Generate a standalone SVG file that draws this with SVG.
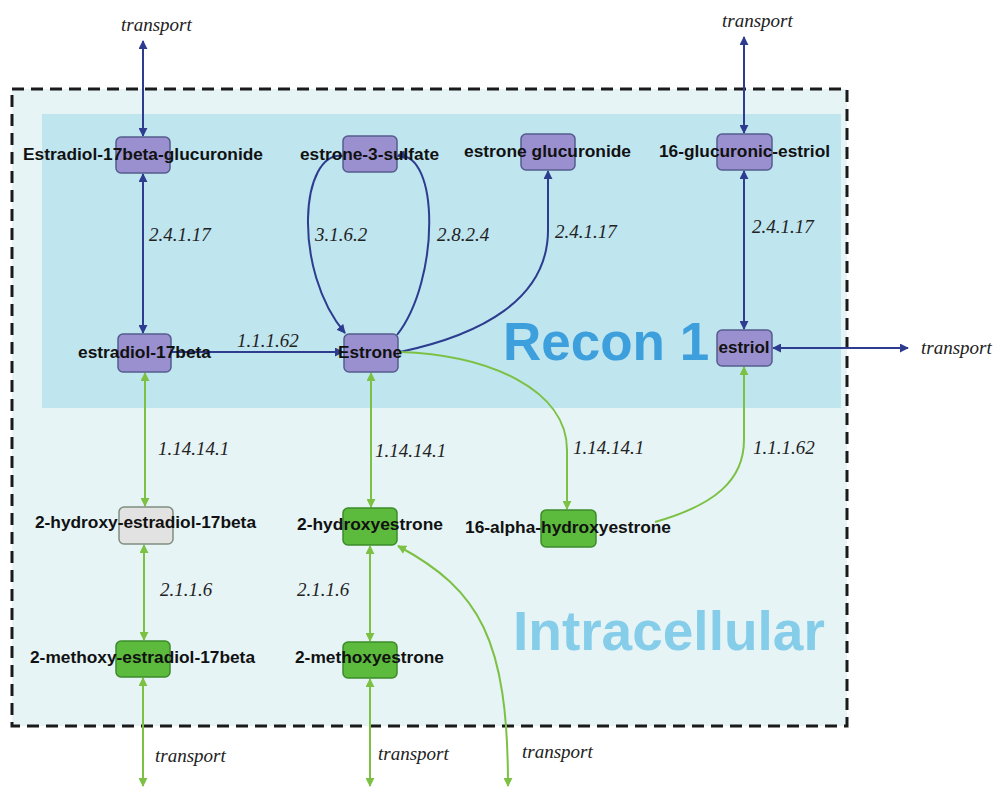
<svg xmlns="http://www.w3.org/2000/svg" width="995" height="787" viewBox="0 0 995 787">
<style>
.lbl{font-family:"Liberation Sans",Arial,sans-serif;font-weight:bold;font-size:16px;fill:#111;text-anchor:middle}
.ec{font-family:"Liberation Serif","Times New Roman",serif;font-style:italic;font-size:19px;fill:#222}
.pur{fill:#9a90d0;stroke:#555c8c;stroke-width:1.5}
.grn{fill:#5cba3c;stroke:#3d8a2a;stroke-width:1.5}
.gry{fill:#e2e2e2;stroke:#7f8f7f;stroke-width:1.5}
.b{fill:none;stroke:#2d3c8e;stroke-width:2}
.g{fill:none;stroke:#7cc144;stroke-width:2}
</style>
<defs>
<marker id="ab" viewBox="0 0 10 10" refX="9" refY="5" markerWidth="9" markerHeight="9" markerUnits="userSpaceOnUse" orient="auto-start-reverse"><path d="M0 0 L10 5 L0 10 Z" fill="#2d3c8e"/></marker>
<marker id="ag" viewBox="0 0 10 10" refX="9" refY="5" markerWidth="9" markerHeight="9" markerUnits="userSpaceOnUse" orient="auto-start-reverse"><path d="M0 0 L10 5 L0 10 Z" fill="#7cc144"/></marker>
</defs>
<rect width="995" height="787" fill="#ffffff"/>
<g id="compartments">
<rect x="12" y="89" width="835" height="637" fill="#e6f4f6" stroke="#1a1a1a" stroke-width="3" stroke-dasharray="12 7"/>
<rect x="42" y="114" width="799" height="294" fill="#bfe5ef"/>
<text x="503" y="360" font-family="Liberation Sans,Arial,sans-serif" font-weight="bold" font-size="53" fill="#3d9fdb">Recon 1</text>
<text x="513" y="650" font-family="Liberation Sans,Arial,sans-serif" font-weight="bold" font-size="55" fill="#86cdea">Intracellular</text>
</g>
<g id="connectors">
<path class="b" d="M143 41 V136" marker-start="url(#ab)" marker-end="url(#ab)"/>
<path class="b" d="M143 174 V333" marker-start="url(#ab)" marker-end="url(#ab)"/>
<path class="b" d="M172 352 H343" marker-end="url(#ab)"/>
<path class="b" d="M343 156 C300 150,292 270,345 333" marker-end="url(#ab)"/>
<path class="b" d="M397 335 C440 280,440 150,397 156" marker-end="url(#ab)"/>
<path class="b" d="M400 352 C480 335,548 300,548 230 L548 171" marker-end="url(#ab)"/>
<path class="b" d="M744 37 V133" marker-start="url(#ab)" marker-end="url(#ab)"/>
<path class="b" d="M744 171 V329" marker-start="url(#ab)" marker-end="url(#ab)"/>
<path class="b" d="M773 348 H908" marker-start="url(#ab)" marker-end="url(#ab)"/>
<path class="g" d="M145 373 V506" marker-start="url(#ag)" marker-end="url(#ag)"/>
<path class="g" d="M144 545 V640" marker-start="url(#ag)" marker-end="url(#ag)"/>
<path class="g" d="M143 678 V786" marker-start="url(#ag)" marker-end="url(#ag)"/>
<path class="g" d="M371 373 V507" marker-start="url(#ag)" marker-end="url(#ag)"/>
<path class="g" d="M370 546 V641" marker-start="url(#ag)" marker-end="url(#ag)"/>
<path class="g" d="M370 679 V786" marker-start="url(#ag)" marker-end="url(#ag)"/>
<path class="g" d="M400 352 C490 355,567 390,567 450 L567 509" marker-end="url(#ag)"/>
<path class="g" d="M655 522 C715 505,744 480,744 440 L744 367" marker-end="url(#ag)"/>
<path class="g" d="M398 546 C480 590,508 640,508 786" marker-start="url(#ag)" marker-end="url(#ag)"/>
</g>
<g id="edge-labels">
<text class="ec" x="121" y="31">transport</text>
<text class="ec" x="722" y="27">transport</text>
<text class="ec" x="921" y="354">transport</text>
<text class="ec" x="155" y="762">transport</text>
<text class="ec" x="378" y="760">transport</text>
<text class="ec" x="522" y="758">transport</text>
<text class="ec" x="149" y="241">2.4.1.17</text>
<text class="ec" x="315" y="241">3.1.6.2</text>
<text class="ec" x="437" y="241">2.8.2.4</text>
<text class="ec" x="555" y="238">2.4.1.17</text>
<text class="ec" x="752" y="233">2.4.1.17</text>
<text class="ec" x="237" y="347">1.1.1.62</text>
<text class="ec" x="158" y="455">1.14.14.1</text>
<text class="ec" x="375" y="457">1.14.14.1</text>
<text class="ec" x="573" y="454">1.14.14.1</text>
<text class="ec" x="753" y="454">1.1.1.62</text>
<text class="ec" x="160" y="596">2.1.1.6</text>
<text class="ec" x="297" y="596">2.1.1.6</text>
</g>
<g id="n-e2g"><rect class="pur" x="116" y="137" width="54" height="36" rx="5"/><text class="lbl" x="143" y="160" textLength="240" lengthAdjust="spacingAndGlyphs">Estradiol-17beta-glucuronide</text></g>
<g id="n-e1s"><rect class="pur" x="343" y="136" width="54" height="36" rx="5"/><text class="lbl" x="369.5" y="160" textLength="139" lengthAdjust="spacingAndGlyphs">estrone-3-sulfate</text></g>
<g id="n-e1g"><rect class="pur" x="521" y="134" width="54" height="36" rx="5"/><text class="lbl" x="547.5" y="157" textLength="167" lengthAdjust="spacingAndGlyphs">estrone glucuronide</text></g>
<g id="n-e3g"><rect class="pur" x="717" y="134" width="55" height="36" rx="5"/><text class="lbl" x="744.5" y="157" textLength="171" lengthAdjust="spacingAndGlyphs">16-glucuronic-estriol</text></g>
<g id="n-e2"><rect class="pur" x="118" y="334" width="53" height="38" rx="5"/><text class="lbl" x="144.5" y="358" textLength="133" lengthAdjust="spacingAndGlyphs">estradiol-17beta</text></g>
<g id="n-e1"><rect class="pur" x="344" y="334" width="54" height="38" rx="5"/><text class="lbl" x="370" y="358" textLength="64" lengthAdjust="spacingAndGlyphs">Estrone</text></g>
<g id="n-e3"><rect class="pur" x="717" y="330" width="55" height="36" rx="5"/><text class="lbl" x="744" y="353" textLength="51" lengthAdjust="spacingAndGlyphs">estriol</text></g>
<g id="n-2oh-e2"><rect class="gry" x="119" y="507" width="54" height="37" rx="5"/><text class="lbl" x="145.5" y="528" textLength="221" lengthAdjust="spacingAndGlyphs">2-hydroxy-estradiol-17beta</text></g>
<g id="n-2oh-e1"><rect class="grn" x="343" y="508" width="54" height="37" rx="5"/><text class="lbl" x="370" y="530" textLength="146" lengthAdjust="spacingAndGlyphs">2-hydroxyestrone</text></g>
<g id="n-16oh-e1"><rect class="grn" x="541" y="510" width="55" height="37" rx="5"/><text class="lbl" x="568" y="533" textLength="206" lengthAdjust="spacingAndGlyphs">16-alpha-hydroxyestrone</text></g>
<g id="n-2me-e2"><rect class="grn" x="116" y="641" width="54" height="36" rx="5"/><text class="lbl" x="142.5" y="663" textLength="225" lengthAdjust="spacingAndGlyphs">2-methoxy-estradiol-17beta</text></g>
<g id="n-2me-e1"><rect class="grn" x="343" y="642" width="54" height="36" rx="5"/><text class="lbl" x="369.5" y="663" textLength="149" lengthAdjust="spacingAndGlyphs">2-methoxyestrone</text></g>
</svg>
